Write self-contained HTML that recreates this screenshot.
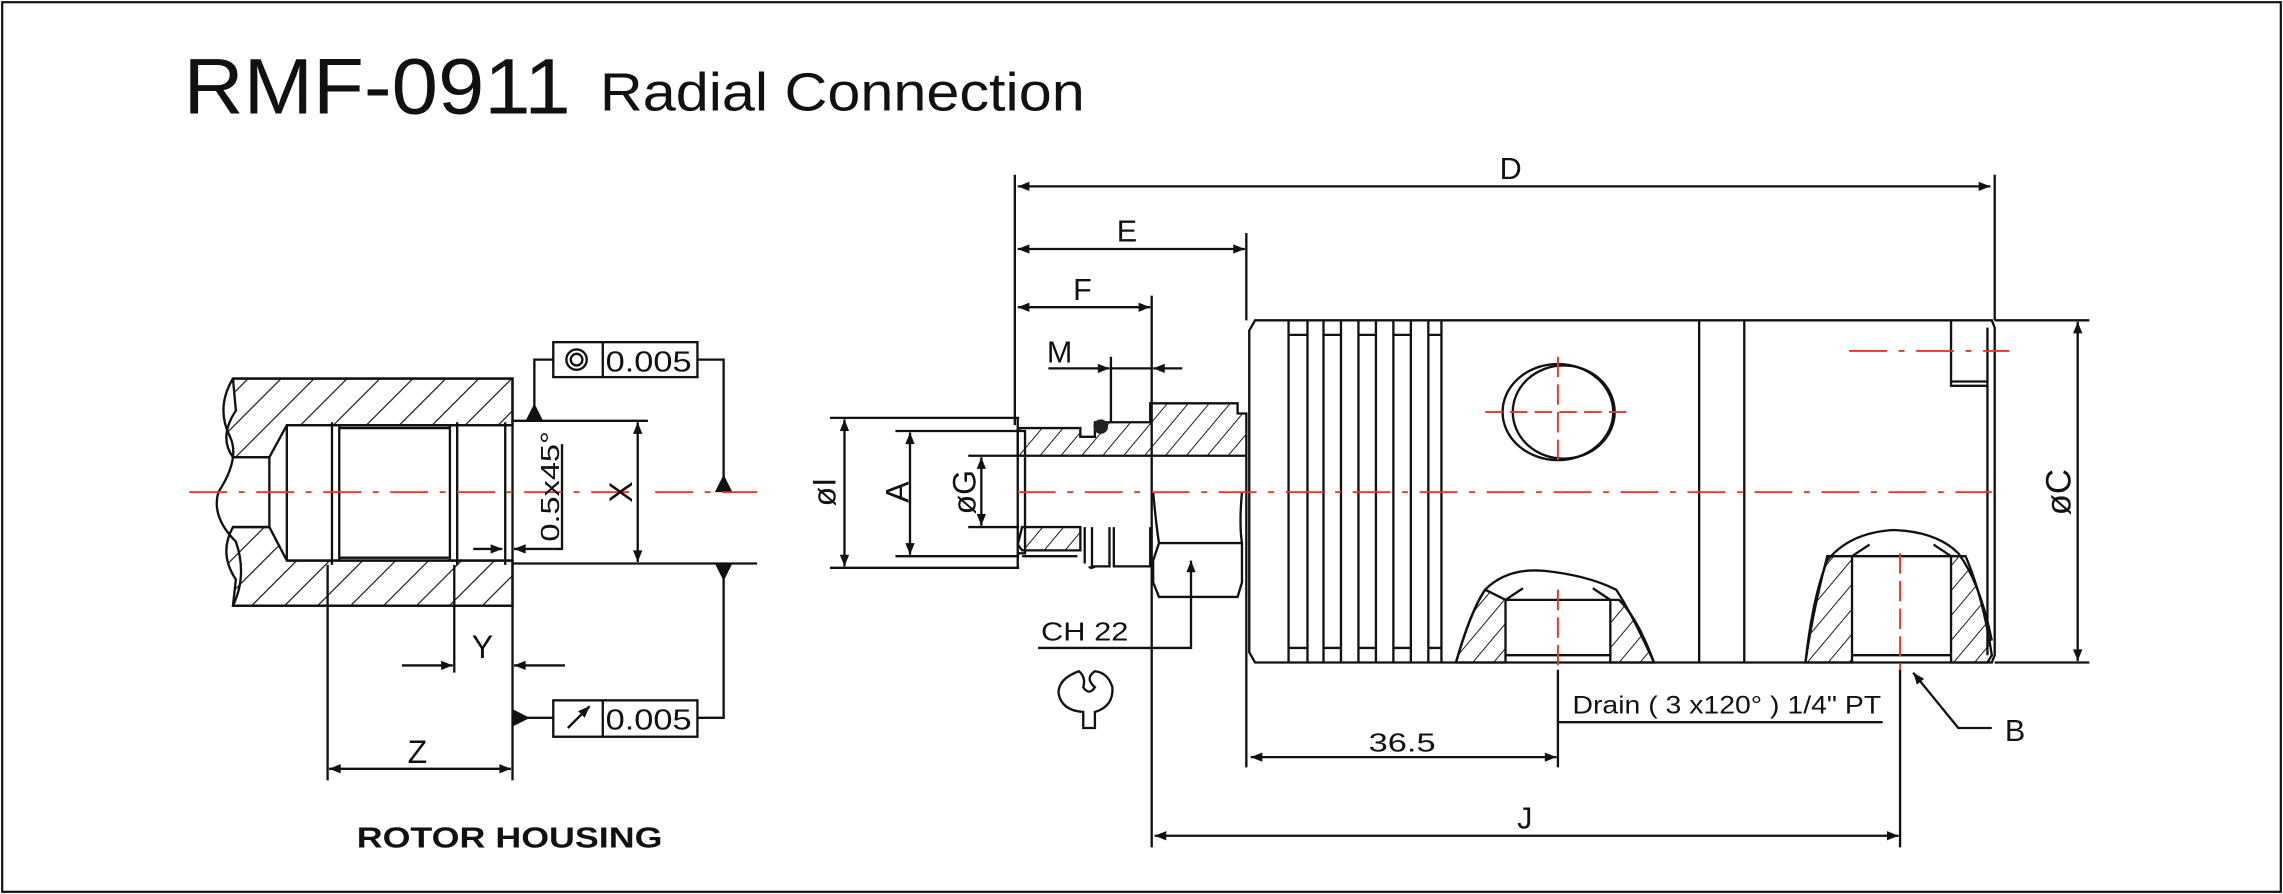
<!DOCTYPE html>
<html><head><meta charset="utf-8"><style>
html,body{margin:0;padding:0;background:#fff;}
svg{display:block;}
text{font-family:"Liberation Sans",Arial,sans-serif;fill:#111;}
</style></head><body>
<svg width="2283" height="894" viewBox="0 0 1568 614" xmlns="http://www.w3.org/2000/svg">
<defs>
<pattern id="h" width="16" height="16" patternUnits="userSpaceOnUse" patternTransform="rotate(45)">
<line x1="0" y1="0" x2="0" y2="16" stroke="#111" stroke-width="1.6"/></pattern>
<pattern id="h2" width="11" height="11" patternUnits="userSpaceOnUse" patternTransform="rotate(40)">
<line x1="0" y1="0" x2="0" y2="11" stroke="#111" stroke-width="1.3"/></pattern>
<marker id="a" viewBox="0 0 10 10" refX="10" refY="5" markerWidth="12" markerHeight="8" orient="auto-start-reverse" markerUnits="userSpaceOnUse"><path d="M0,1L10,5L0,9z" fill="#111"/></marker>
</defs>
<rect x="1.5" y="1.5" width="1565" height="611" fill="none" stroke="#111" stroke-width="1.5"/>
<text x="126" y="78" font-size="54" textLength="266" lengthAdjust="spacingAndGlyphs">RMF-0911</text>
<text x="412" y="76" font-size="37" textLength="333" lengthAdjust="spacingAndGlyphs">Radial Connection</text>

<g stroke="#111" stroke-width="1.6" fill="none">
<path d="M160,260 L352,260 L352,292 L197,292 L185,314 L160,314 Q150,300 162,282 Z" fill="url(#h)"/>
<path d="M160,416 L352,416 L352,385 L197,385 L185,362 L160,362 Q150,380 162,398 Z" fill="url(#h)"/>
<path d="M160,260 Q148,280 158,300 Q165,315 150,338 Q145,355 162,372 Q170,395 160,416"/>
<path d="M160,260 L352,260 L352,416 L160,416"/>
<path d="M197,292 L352,292 M197,385 L352,385 M197,292 L197,385 M185,314 L185,362 M160,314 L185,314 M160,362 L185,362"/>
<path d="M228,290 L228,388 M233,292 L233,385 M309,292 L309,385 M314,290 L314,388 M347,290 L347,388 M233,294 L309,294 M233,383 L309,383"/>
<line x1="352" y1="289" x2="445" y2="289"/>
<line x1="352" y1="387" x2="520" y2="387"/>
<line x1="438" y1="290" x2="438" y2="386" marker-start="url(#a)" marker-end="url(#a)"/>
<path d="M325,377 L345,377" marker-end="url(#a)"/><path d="M380,377 L353,377" marker-end="url(#a)"/>
<path d="M380,377 L386,377 L386,305"/>
<rect x="380" y="235" width="99" height="24"/><line x1="414" y1="235" x2="414" y2="259"/>
<circle cx="396" cy="247" r="7"/><circle cx="396" cy="247" r="4"/>
<path d="M380,247 L367,247 L367,280"/><path d="M479,247 L497,247 L497,328"/>
<rect x="380" y="481" width="99" height="25"/><line x1="414" y1="481" x2="414" y2="506"/>
<path d="M390,500 L405,485" marker-end="url(#a)"/>
<path d="M479,493 L497,493 L497,396"/><path d="M380,493 L362,493"/>
<path d="M225,388 L225,536 M312,388 L312,462 M352,416 L352,536"/>
<path d="M276,457 L311,457" marker-end="url(#a)"/><path d="M388,457 L353,457" marker-end="url(#a)"/>
<line x1="226" y1="528" x2="351" y2="528" marker-start="url(#a)" marker-end="url(#a)"/>
</g>
<g fill="#111">
<path d="M367,277 l-6,12 h12z"/><path d="M497,326 l-6,12 h12z"/>
<path d="M497,399 l-6,-12 h12z"/><path d="M364,493 l-12,-6 v12z"/>
</g>
<g stroke="#e32" stroke-width="1.3" stroke-dasharray="26,8,4,8">
<line x1="130" y1="338" x2="437" y2="338"/><line x1="450" y1="338" x2="520" y2="338"/>
</g>
<text x="416" y="255" font-size="20" textLength="59" lengthAdjust="spacingAndGlyphs">0.005</text>
<text x="416" y="501" font-size="20" textLength="59" lengthAdjust="spacingAndGlyphs">0.005</text>
<text transform="translate(434,338) rotate(-90)" font-size="22" text-anchor="middle">X</text>
<text transform="translate(384,372) rotate(-90)" font-size="18" textLength="76" lengthAdjust="spacingAndGlyphs">0.5x45°</text>
<text x="324" y="452" font-size="22">Y</text>
<text x="280" y="524" font-size="22">Z</text>
<text x="245" y="582" font-size="20" font-weight="bold" textLength="210" lengthAdjust="spacingAndGlyphs">ROTOR HOUSING</text>

<g stroke="#111" stroke-width="1.6" fill="none">
<path d="M697,120 L697,292 M1370,120 L1370,220 M856,160 L856,220 M856,455 L856,527 M791,203 L791,582 M763,245 L763,290 M1070,460 L1070,527 M1305,460 L1305,582"/>
<line x1="699" y1="128" x2="1367" y2="128" marker-start="url(#a)" marker-end="url(#a)"/>
<line x1="699" y1="171" x2="855" y2="171" marker-start="url(#a)" marker-end="url(#a)"/>
<line x1="699" y1="211" x2="790" y2="211" marker-start="url(#a)" marker-end="url(#a)"/>
<path d="M720,253 L762,253" marker-end="url(#a)"/><path d="M812,253 L792,253" marker-end="url(#a)"/>
<line x1="763" y1="253" x2="791" y2="253"/>
<path d="M862,220 L1368,220 L1370,225 L1370,450 L1368,455 L862,455 L858,448 L858,227 Z"/>
<path d="M885,220 L885,455 M898,220 L898,455 M909,220 L909,455 M921,220 L921,455 M933,220 L933,455 M945,220 L945,455 M957,220 L957,455 M969,220 L969,455 M981,220 L981,455 M990,220 L990,455"/>
<path d="M885,230 L898,230 M909,230 L921,230 M933,230 L945,230 M957,230 L969,230 M981,230 L990,230 M885,445 L898,445 M909,445 L921,445 M933,445 L945,445 M957,445 L969,445 M981,445 L990,445"/>
<path d="M1167,220 L1167,455 M1198,220 L1198,455 M1365,225 L1365,450"/>
<path d="M1340,220 L1340,265 L1365,265 M1340,262 L1365,262"/>
<ellipse cx="1070" cy="283" rx="38" ry="33"/><ellipse cx="1074" cy="283" rx="35" ry="32"/>
<path d="M1000,455 Q1010,420 1020,405 Q1035,390 1060,392 Q1090,395 1110,405 Q1120,420 1136,455" />
<path d="M1000,455 Q1010,420 1020,405 L1034,412 L1034,455 Z" fill="url(#h2)"/>
<path d="M1136,455 Q1125,425 1112,412 L1106,412 L1106,455 Z" fill="url(#h2)"/>
<path d="M1034,412 L1106,412 M1034,450 L1106,450 M1034,412 L1046,404 M1106,412 L1094,404"/>
<path d="M1240,455 Q1245,410 1255,385 Q1270,366 1300,364 Q1330,365 1345,380 Q1360,400 1368,440"/>
<path d="M1240,455 Q1245,420 1255,382 L1272,382 L1272,455 Z" fill="url(#h2)"/>
<path d="M1368,450 Q1362,410 1350,382 L1340,382 L1340,455 L1365,455 Z" fill="url(#h2)"/>
<path d="M1272,382 L1340,382 M1272,450 L1340,450 M1272,382 L1284,374 M1340,382 L1328,374"/>
<path d="M699,287 L699,390"/>
<path d="M699,294 L742,294 L742,300 L752,300 L752,290 L790,290 L790,277 L850,277 L850,284 L856,284 L856,313 L699,313 Z" fill="url(#h2)"/>
<path d="M702,362 L742,362 L742,378 L702,378 L699,374 Z" fill="url(#h2)"/>
<path d="M699,296 L704,296 L704,380 L699,380 M702,382 L740,382"/>
<path d="M745,362 L745,387 M750,362 L750,389 L762,389 L762,362 M765,362 L765,389 L790,389 L790,362 M748,389 Q749,391 752,389"/>
<path d="M792,338 Q794,360 796,373 L853,373 Q851,360 853,338 M796,373 L792,385 L792,400 L796,410 L850,410 L853,400 L853,385 L853,373 M856,313 L856,455"/>
<line x1="570" y1="287" x2="700" y2="287"/><line x1="570" y1="390" x2="700" y2="390"/>
<line x1="615" y1="296" x2="700" y2="296"/><line x1="615" y1="382" x2="700" y2="382"/>
<line x1="665" y1="313" x2="700" y2="313"/><line x1="665" y1="362" x2="700" y2="362"/>
<line x1="580" y1="288" x2="580" y2="389" marker-start="url(#a)" marker-end="url(#a)"/>
<line x1="625" y1="297" x2="625" y2="381" marker-start="url(#a)" marker-end="url(#a)"/>
<line x1="674" y1="314" x2="674" y2="361" marker-start="url(#a)" marker-end="url(#a)"/>
<path d="M713,445 L818,445 L818,385" marker-end="url(#a)"/>
<path d="M741,461 Q727,466 727,476 Q729,488 744,489 L744,500 L752,500 L752,489 Q765,485 764,472 Q761,462 752,461 Q746,465 750,470 L752,472 Q748,478 744,472 Q746,465 741,461 Z"/>
<path d="M1370,220 L1435,220 M1370,455 L1435,455"/>
<line x1="1427" y1="221" x2="1427" y2="454" marker-start="url(#a)" marker-end="url(#a)"/>
<path d="M1070,496 L1293,496"/>
<line x1="859" y1="520" x2="1069" y2="520" marker-start="url(#a)" marker-end="url(#a)"/>
<line x1="793" y1="574" x2="1304" y2="574" marker-start="url(#a)" marker-end="url(#a)"/>
<path d="M1368,500 L1345,500 L1314,462" marker-end="url(#a)"/>
</g>
<circle cx="756" cy="293" r="5" fill="#222"/>
<g stroke="#e32" stroke-width="1.3" stroke-dasharray="26,8,4,8" fill="none">
<line x1="699" y1="338" x2="1368" y2="338"/>
<line x1="1270" y1="241" x2="1380" y2="241"/>
<line x1="1020" y1="283" x2="1122" y2="283" stroke-dasharray="12,5"/>
<line x1="1070" y1="245" x2="1070" y2="320" stroke-dasharray="14,5"/>
<line x1="1070" y1="405" x2="1070" y2="460" stroke-dasharray="14,5"/>
<line x1="1305" y1="380" x2="1305" y2="460" stroke-dasharray="14,5"/>
</g>
<text x="1030" y="123" font-size="21">D</text>
<text x="767" y="166" font-size="21">E</text>
<text x="737" y="206" font-size="21">F</text>
<text x="719" y="249" font-size="21">M</text>
<text transform="translate(574,338) rotate(-90)" font-size="22" text-anchor="middle">øI</text>
<text transform="translate(624,338) rotate(-90)" font-size="22" text-anchor="middle">A</text>
<text transform="translate(670,338) rotate(-90)" font-size="22" text-anchor="middle">øG</text>
<text transform="translate(1422,338) rotate(-90)" font-size="24" text-anchor="middle">øC</text>
<text x="715" y="440" font-size="18" textLength="60" lengthAdjust="spacingAndGlyphs">CH 22</text>
<text x="1080" y="490" font-size="17" textLength="212" lengthAdjust="spacingAndGlyphs">Drain ( 3 x120° ) 1/4" PT</text>
<text x="940" y="516" font-size="18" textLength="46" lengthAdjust="spacingAndGlyphs">36.5</text>
<text x="1042" y="569" font-size="21">J</text>
<text x="1377" y="509" font-size="21">B</text>
</svg>
</body></html>
